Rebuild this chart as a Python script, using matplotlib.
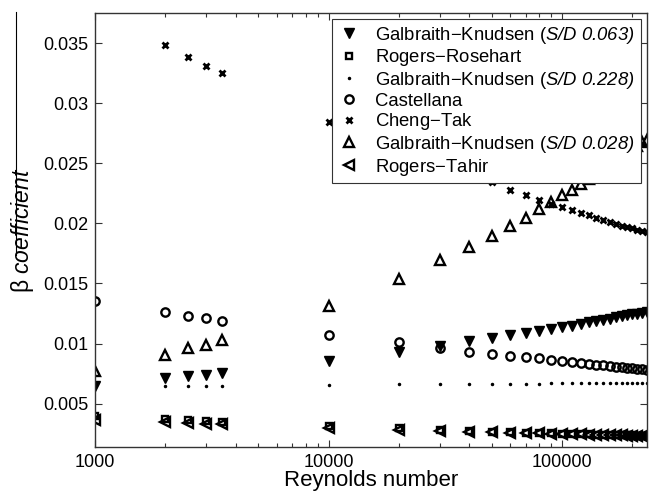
import numpy as np
import matplotlib
matplotlib.use("Agg")
import matplotlib.pyplot as plt
from matplotlib.lines import Line2D
from matplotlib.ticker import FixedLocator, FuncFormatter, LogLocator, NullFormatter

plt.rcParams['font.family'] = ['Liberation Sans', 'DejaVu Sans']
plt.rcParams['mathtext.fontset'] = 'custom'
plt.rcParams['mathtext.rm'] = 'Liberation Sans'
plt.rcParams['mathtext.it'] = 'Liberation Sans:italic'
# sans-serif slot mapped to the italic face so digits are slanted too
plt.rcParams['mathtext.sf'] = 'Liberation Sans:italic'

# Reynolds numbers at which each correlation is evaluated
reynolds = [1000, 2000, 2500, 3000, 3500, 10000,
            20000, 30000, 40000, 50000, 60000, 70000, 80000, 90000, 100000,
            110000, 120000, 130000, 140000, 150000, 160000, 170000, 180000,
            190000, 200000, 210000, 220000, 230000]

galbraith_063 = [0.00650, 0.00714, 0.00728, 0.00742, 0.00756, 0.00853,
                 0.00932, 0.00978, 0.01019, 0.01046, 0.01068, 0.01090, 0.01107,
                 0.01120, 0.01135, 0.01148, 0.01165, 0.01176, 0.01187, 0.01198,
                 0.01206, 0.01218, 0.01226, 0.01234, 0.01243, 0.01248, 0.01254,
                 0.01259]

rogers_rosehart = [0.00400, 0.00372, 0.00363, 0.00356, 0.00350, 0.00315,
                   0.00294, 0.00282, 0.00274, 0.00268, 0.00263, 0.00259,
                   0.00256, 0.00253, 0.00251, 0.00249, 0.00247, 0.00245,
                   0.00243, 0.00242, 0.00241, 0.00239, 0.00238, 0.00237,
                   0.00236, 0.00235, 0.00234, 0.00233]

galbraith_228 = [0.00648, 0.00648, 0.00648, 0.00649, 0.00649, 0.00656,
                 0.00660, 0.00662, 0.00664, 0.00665, 0.00666, 0.00667, 0.00668,
                 0.00669, 0.00669, 0.00670, 0.00670, 0.00671, 0.00671, 0.00671,
                 0.00672, 0.00672, 0.00672, 0.00673, 0.00673, 0.00673, 0.00673,
                 0.00674]

castellana = [0.01356, 0.01259, 0.01231, 0.01209, 0.01190, 0.01071,
              0.01010, 0.00961, 0.00932, 0.00913, 0.00897, 0.00886, 0.00878,
              0.00866, 0.00855, 0.00846, 0.00838, 0.00831, 0.00824, 0.00818,
              0.00812, 0.00807, 0.00802, 0.00797, 0.00793, 0.00789, 0.00785,
              0.00781]

cheng_tak = [np.nan, 0.0348, 0.0338, 0.0331, 0.03248, 0.02847,
             0.0267, 0.0252, 0.0242, 0.02341, 0.02277, 0.02233, 0.02194,
             0.0216, 0.02136, 0.02111, 0.02089, 0.02067, 0.02045, 0.02028,
             0.02011, 0.01998, 0.01981, 0.01970, 0.01959, 0.01948, 0.01936,
             0.01926]

galbraith_028 = [0.00775, 0.00905, 0.00961, 0.00990, 0.01029, 0.01314,
                 0.01541, 0.01693, 0.01807, 0.01895, 0.01978, 0.02048, 0.02117,
                 0.02177, 0.02233, 0.02277, 0.02324, 0.02368, 0.02411, 0.02449,
                 0.02486, 0.02520, 0.02553, 0.02585, 0.02615, 0.02645, 0.02673,
                 0.02697]

rogers_tahir = [0.00368, 0.00345, 0.00338, 0.00333, 0.00328, 0.00300,
                0.00284, 0.00275, 0.00268, 0.00263, 0.00259, 0.00256,
                0.00253, 0.00250, 0.00248, 0.00246, 0.00244, 0.00243,
                0.00241, 0.00240, 0.00239, 0.00237, 0.00236, 0.00235,
                0.00234, 0.00233, 0.00232, 0.00231]

y_ticks = [0.005, 0.01, 0.015, 0.02, 0.025, 0.03, 0.035]
x_ticks = [1000, 10000, 100000]

fig = plt.figure(figsize=(6.56, 4.93), dpi=100)
ax = fig.add_axes([95 / 656, 1 - 447 / 493, (647 - 95) / 656, (447 - 13) / 493])

open_kw = dict(linestyle='none', color='black', markerfacecolor='none',
               markeredgecolor='black', markeredgewidth=1.7)

ax.plot(reynolds, galbraith_063, marker='v', linestyle='none', color='black',
        markersize=6.5, label=r'Galbraith$-$Knudsen ($\mathsf{S/D\ 0.063)}$')
ax.plot(reynolds, rogers_rosehart, marker='s', markersize=5, label='Rogers$-$Rosehart',
        **open_kw)
ax.plot(reynolds, galbraith_228, marker='.', linestyle='none', color='black',
        markersize=3, label=r'Galbraith$-$Knudsen ($\mathsf{S/D\ 0.228)}$')
ax.plot(reynolds, castellana, marker='o', markersize=6, label='Castellana', **open_kw)
ax.plot(reynolds, cheng_tak, marker='x', linestyle='none', color='black',
        markersize=4.5, markeredgewidth=2, label='Cheng$-$Tak')
ax.plot(reynolds, galbraith_028, marker='^', markersize=7,
        label=r'Galbraith$-$Knudsen ($\mathsf{S/D\ 0.028)}$', **open_kw)
ax.plot(reynolds, rogers_tahir, marker='<', markersize=6.5, label='Rogers$-$Tahir',
        **open_kw)

ax.set_xscale('log')
ax.set_xlim(1000, 231000)
ax.set_ylim(0.0014, 0.0375)

ax.xaxis.set_major_locator(FixedLocator(x_ticks))
ax.xaxis.set_major_formatter(FuncFormatter(lambda v, p: '%d' % v))
ax.xaxis.set_minor_locator(LogLocator(base=10, subs=np.arange(2, 10)))
ax.xaxis.set_minor_formatter(NullFormatter())
ax.yaxis.set_major_locator(FixedLocator(y_ticks))
ax.yaxis.set_major_formatter(FuncFormatter(lambda v, p: ('%.3f' % v).rstrip('0')))

ax.tick_params(which='both', direction='in', top=True, right=True,
               labelsize=13, color='#333333', width=0.8)
ax.tick_params(which='major', length=5, pad=5)
ax.tick_params(which='minor', length=3)
for s in ax.spines.values():
    s.set_color('#333333')
    s.set_linewidth(1.0)

ax.set_xlabel('Reynolds number', fontsize=16, labelpad=-1)
ax.set_ylabel(r'$\mathrm{\beta}\ \mathit{coefficient}$', fontsize=16.5, labelpad=5)

leg = ax.legend(loc='upper right', bbox_to_anchor=(1 - 6.5 / 552, 1 - 6 / 434),
                fontsize=13.3, frameon=True, fancybox=False, framealpha=1,
                edgecolor='#333333', borderpad=0.3, labelspacing=0.09,
                handlelength=1.2, handletextpad=0.85, borderaxespad=0)
leg.get_frame().set_linewidth(0.8)

# rule drawn beside the axis title
fig.add_artist(Line2D([15.7 / 656, 15.7 / 656], [1 - 12 / 493, 1 - 255 / 493],
                      transform=fig.transFigure, color='black', linewidth=0.8))

fig.savefig('out.png', dpi=100)
